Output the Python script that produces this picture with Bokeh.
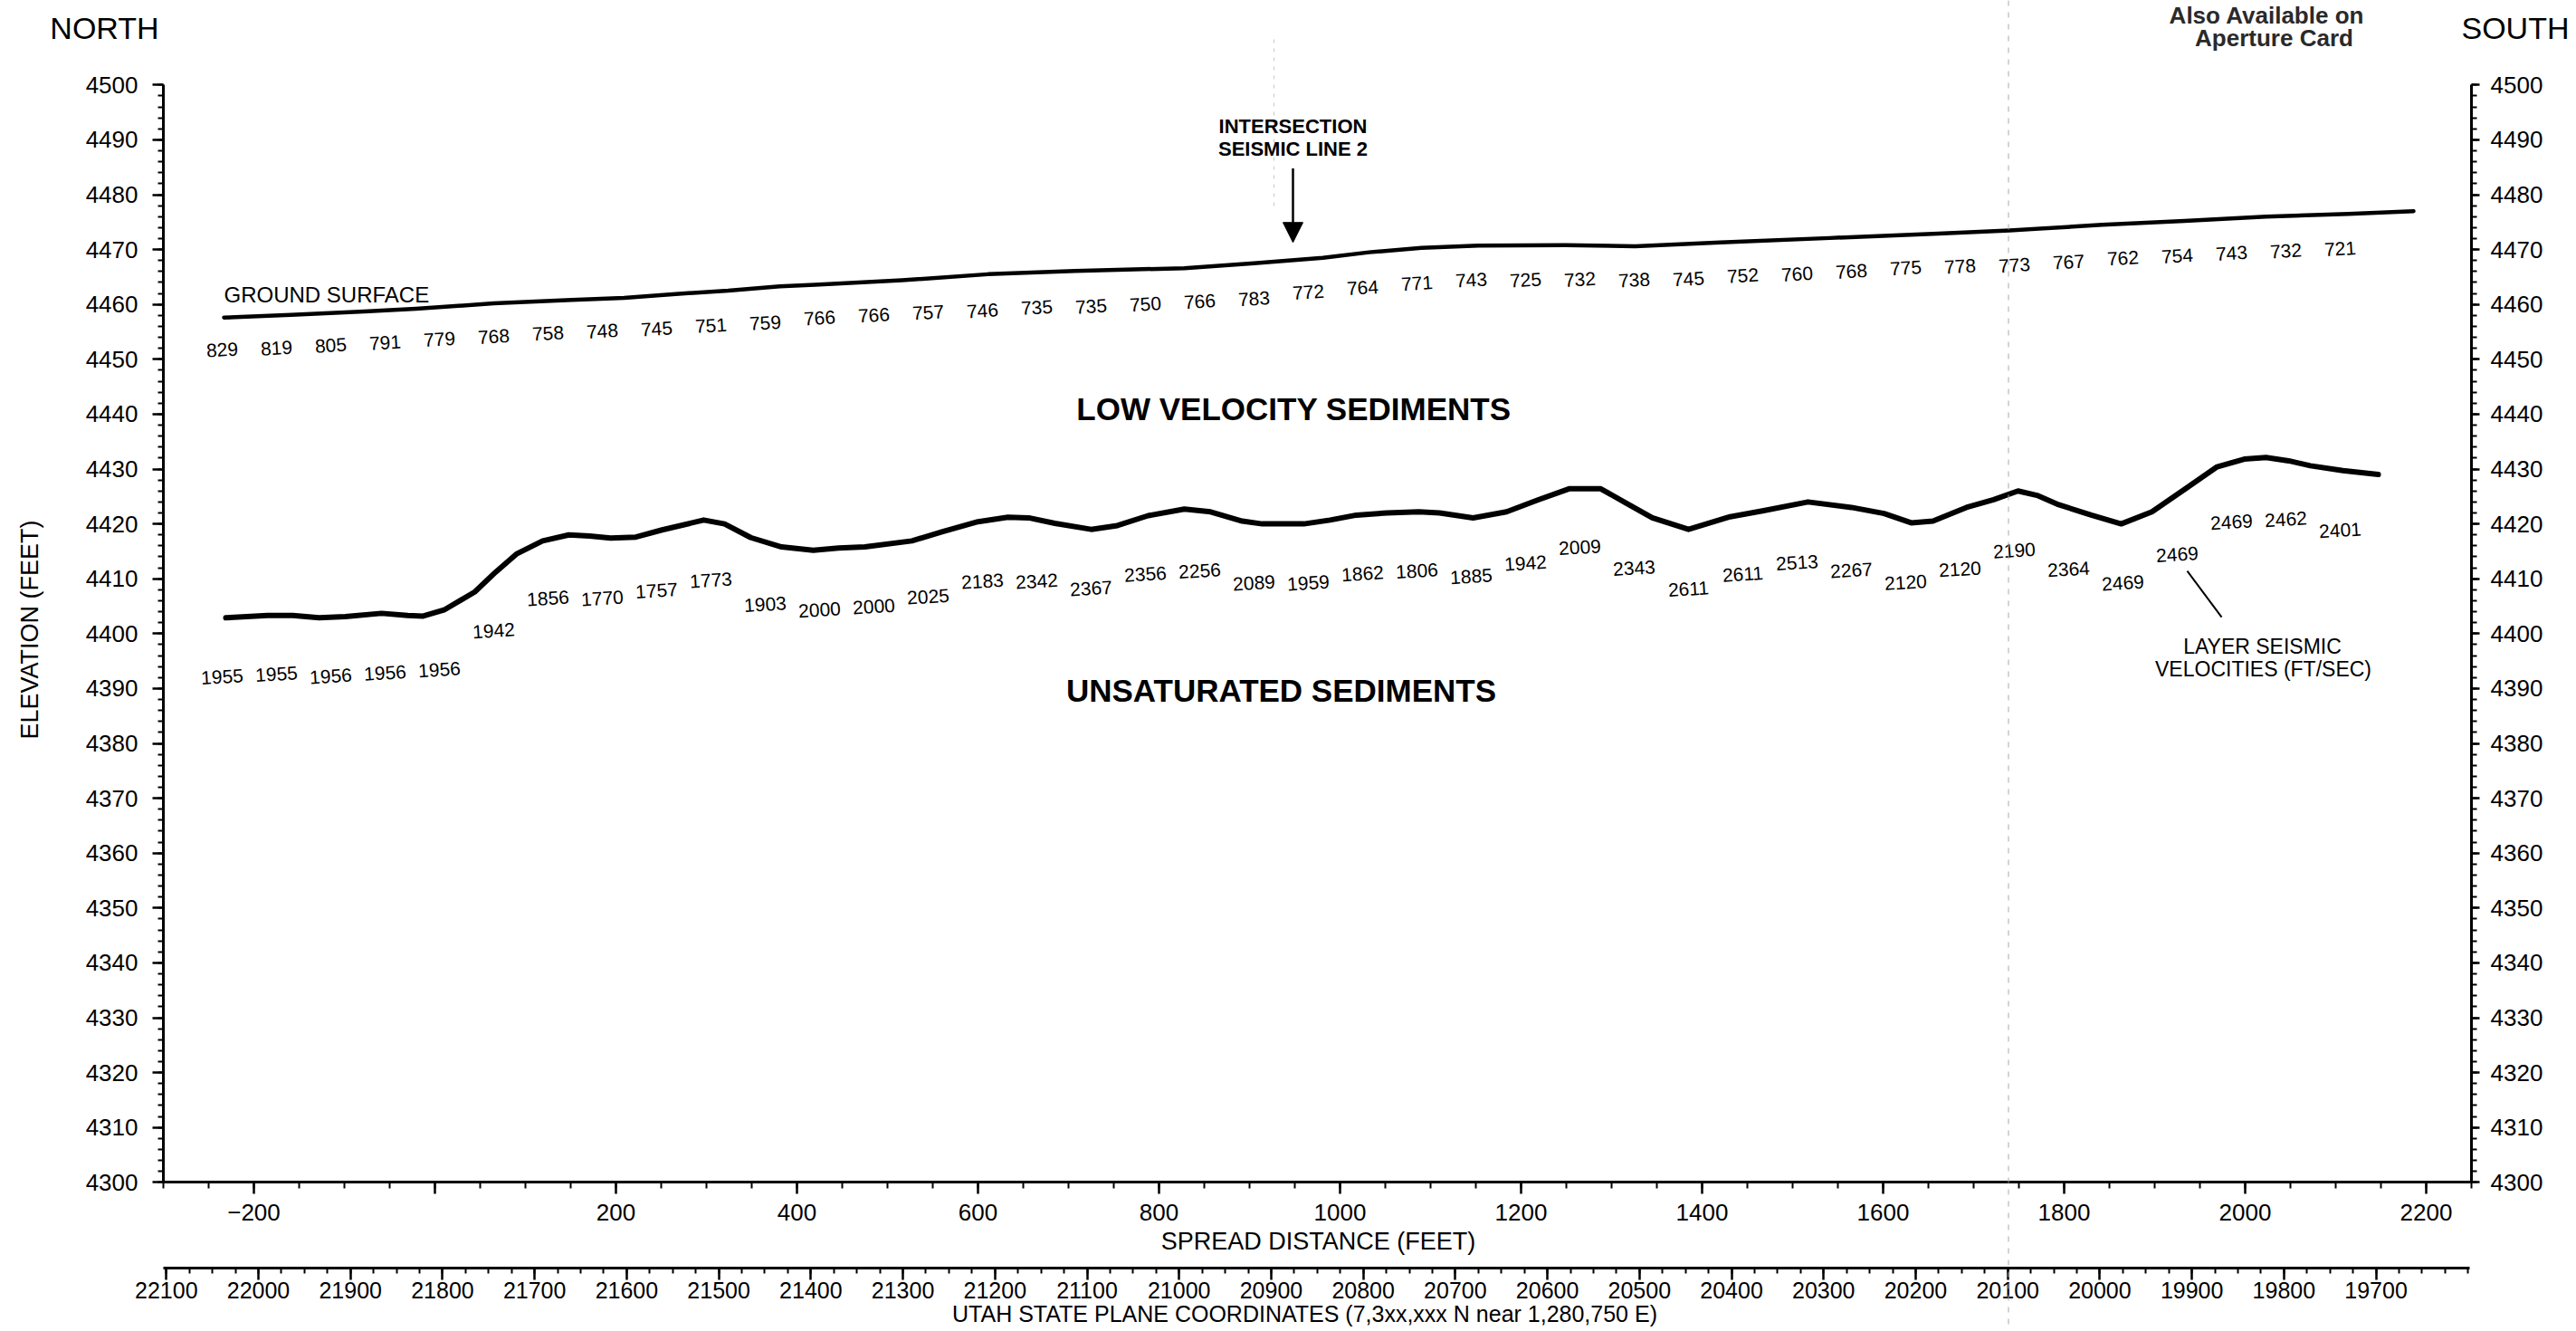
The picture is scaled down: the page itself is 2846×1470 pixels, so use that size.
import math
from bokeh.plotting import figure
from bokeh.models import (Range1d, LinearAxis, FixedTicker, ColumnDataSource, Label,
                          Arrow, NormalHead, Span)
from bokeh.core.properties import value
from bokeh.embed import file_html
from bokeh.resources import INLINE

# ---------------- data ----------------
stations = [-235, -175, -115, -55, 5, 65, 125, 185, 245, 305, 365, 425, 485, 545, 605,
            665, 725, 785, 845, 905, 965, 1025, 1085, 1145, 1205, 1265, 1325, 1385, 1445,
            1505, 1565, 1625, 1685, 1745, 1805, 1865, 1925, 1985, 2045, 2105]

ground_x = [-233, -159, -78, -21, 65, 151, 209, 266, 324, 381, 420, 516, 611, 707, 828, 905,
            981, 1032, 1090, 1153, 1249, 1326, 1420, 1541, 1661, 1740, 1842, 1933, 2023, 2114, 2186]
ground_y = [4457.6, 4458.1, 4458.7, 4459.2, 4460.2, 4460.8, 4461.2, 4461.9, 4462.5, 4463.3,
            4463.6, 4464.4, 4465.5, 4466.1, 4466.6, 4467.5, 4468.5, 4469.5, 4470.3, 4470.7,
            4470.8, 4470.6, 4471.3, 4472.1, 4472.9, 4473.5, 4474.5, 4475.2, 4476.0, 4476.5, 4477.0]

layer_x = [-231, -185, -157, -128, -99, -59, -30, -13, 10, 44, 67, 90, 119, 148, 171, 194, 222,
           251, 297, 320, 349, 383, 418, 446, 475, 527, 561, 600, 633, 656, 685, 725, 754, 788,
           828, 857, 892, 914, 960, 989, 1018, 1052, 1087, 1110, 1147, 1184, 1219, 1253, 1288,
           1316, 1345, 1385, 1431, 1468, 1517, 1565, 1601, 1631, 1655, 1692, 1722, 1749, 1770,
           1794, 1830, 1863, 1897, 1933, 1969, 1999, 2023, 2048, 2072, 2108, 2147]
layer_y = [4402.9, 4403.3, 4403.3, 4402.9, 4403.1, 4403.7, 4403.3, 4403.2, 4404.3, 4407.6,
           4411.2, 4414.5, 4416.9, 4418.0, 4417.8, 4417.4, 4417.6, 4418.9, 4420.7, 4420.0,
           4417.5, 4415.8, 4415.2, 4415.6, 4415.8, 4416.9, 4418.6, 4420.4, 4421.2, 4421.1,
           4420.1, 4419.0, 4419.7, 4421.5, 4422.7, 4422.2, 4420.5, 4420.0, 4420.0, 4420.7,
           4421.6, 4422.0, 4422.2, 4422.0, 4421.1, 4422.2, 4424.4, 4426.4, 4426.4, 4423.8,
           4421.1, 4419.0, 4421.3, 4422.4, 4424.0, 4423.0, 4421.9, 4420.2, 4420.5, 4423.0,
           4424.4, 4426.0, 4425.2, 4423.5, 4421.6, 4420.0, 4422.2, 4426.3, 4430.4, 4431.8,
           4432.1, 4431.5, 4430.6, 4429.7, 4429.0]

upper_vel = ["829", "819", "805", "791", "779", "768", "758", "748", "745", "751",
             "759", "766", "766", "757", "746", "735", "735", "750", "766", "783",
             "772", "764", "771", "743", "725", "732", "738", "745", "752", "760",
             "768", "775", "778", "773", "767", "762", "754", "743", "732", "721"]
upper_vel_elev = [4451.7, 4452.0, 4452.5, 4453.0, 4453.6, 4454.1, 4454.7, 4455.1, 4455.5, 4456.1,
                  4456.6, 4457.5, 4458.0, 4458.5, 4458.8, 4459.4, 4459.6, 4460.0, 4460.5, 4461.0,
                  4462.2, 4463.0, 4463.8, 4464.4, 4464.4, 4464.5, 4464.4, 4464.6, 4465.2, 4465.5,
                  4466.0, 4466.6, 4466.9, 4467.1, 4467.7, 4468.4, 4468.8, 4469.3, 4469.7, 4470.1]

lower_vel = ["1955", "1955", "1956", "1956", "1956", "1942", "1856", "1770", "1757", "1773",
             "1903", "2000", "2000", "2025", "2183", "2342", "2367", "2356", "2256", "2089",
             "1959", "1862", "1806", "1885", "1942", "2009", "2343", "2611", "2611", "2513",
             "2267", "2120", "2120", "2190", "2364", "2469", "2469", "2469", "2462", "2401"]
lower_vel_elev = [4392.1, 4392.6, 4392.2, 4392.8, 4393.4, 4400.5, 4406.4, 4406.4, 4407.8, 4409.7,
                  4405.3, 4404.3, 4404.9, 4406.7, 4409.5, 4409.5, 4408.2, 4410.8, 4411.4, 4409.2,
                  4409.2, 4410.9, 4411.4, 4410.4, 4412.8, 4415.7, 4411.9, 4408.1, 4410.8, 4412.9,
                  4411.5, 4409.3, 4411.7, 4415.1, 4411.7, 4409.2, 4414.4, 4420.3, 4420.8, 4418.8]

elev_ticks = [4300, 4310, 4320, 4330, 4340, 4350, 4360, 4370, 4380, 4390, 4400, 4410, 4420,
              4430, 4440, 4450, 4460, 4470, 4480, 4490, 4500]
spread_ticks = [-200, 0, 200, 400, 600, 800, 1000, 1200, 1400, 1600, 1800, 2000, 2200]
coord_ticks = [22100, 22000, 21900, 21800, 21700, 21600, 21500, 21400, 21300, 21200, 21100,
               21000, 20900, 20800, 20700, 20600, 20500, 20400, 20300, 20200, 20100, 20000,
               19900, 19800, 19700]

# axis extents (data units)
SPREAD_MIN, SPREAD_MAX = -300, 2250
ELEV_MIN, ELEV_MAX = 4300, 4500
COORD_AT_MIN, COORD_AT_MAX = 22103, 19598

# annotation anchors (data units)
intersection_x = 948
pointer_line = ([1936, 1974], [4411.4, 4403.0])
fold_line_x = 1738.5

FONT = "Liberation Sans"

# ---------------- figure ----------------
# The frame fills the whole canvas so texts in the margins can be drawn;
# the axes are placed at fixed locations with bounds.
W, H = 2840, 1466
PX_PER_FT_X = 1.0
X0_PX = 480.0          # canvas x of spread distance 0
Y_TOP_PX = 93.3        # canvas y of elevation 4500
PX_PER_FT_Y = 6.06
COORD_PX_PER_UNIT = 1.0172
COORD_22100_PX = 183.3

x_lo = (0 - X0_PX) / PX_PER_FT_X
x_hi = (W - X0_PX) / PX_PER_FT_X
y_hi = ELEV_MAX + Y_TOP_PX / PX_PER_FT_Y
y_lo = ELEV_MAX - (H - Y_TOP_PX) / PX_PER_FT_Y
c_lo = 22100 + COORD_22100_PX / COORD_PX_PER_UNIT
c_hi = 22100 - (W - COORD_22100_PX) / COORD_PX_PER_UNIT
coord_axis_elev = ELEV_MAX - (1400 - Y_TOP_PX) / PX_PER_FT_Y

p = figure(width=W, height=H,
           x_range=Range1d(x_lo, x_hi), y_range=Range1d(y_lo, y_hi),
           x_axis_type=None, y_axis_type=None,
           output_backend="svg", toolbar_location=None,
           min_border_left=0, min_border_right=0, min_border_top=0, min_border_bottom=0)
p.outline_line_color = None
p.background_fill_color = "white"
p.border_fill_color = "white"
p.extra_x_ranges = {"coord": Range1d(c_lo, c_hi)}


def style_axis(ax, tick_out, minor_out, label_size="26px"):
    ax.axis_line_width = 3
    ax.axis_line_color = "black"
    ax.major_tick_out = tick_out
    ax.major_tick_in = 0
    ax.minor_tick_out = minor_out
    ax.minor_tick_in = 0
    ax.major_tick_line_width = 2.5
    ax.minor_tick_line_width = 2
    ax.major_tick_line_color = "black"
    ax.minor_tick_line_color = "black"
    ax.major_label_text_font = FONT
    ax.major_label_text_font_size = label_size
    ax.major_label_text_color = "black"


elev_minor = list(range(ELEV_MIN, ELEV_MAX + 1, 2))
left_ax = LinearAxis(ticker=FixedTicker(ticks=elev_ticks, minor_ticks=elev_minor),
                     fixed_location=SPREAD_MIN, bounds=(ELEV_MIN, ELEV_MAX))
style_axis(left_ax, 12, 6)
left_ax.major_label_standoff = 16
p.add_layout(left_ax, "left")

right_ax = LinearAxis(ticker=FixedTicker(ticks=elev_ticks, minor_ticks=elev_minor),
                      fixed_location=SPREAD_MAX, bounds=(ELEV_MIN, ELEV_MAX))
style_axis(right_ax, 9, 6)
right_ax.major_label_standoff = 12
p.add_layout(right_ax, "right")

spread_ax = LinearAxis(ticker=FixedTicker(ticks=spread_ticks,
                                          minor_ticks=list(range(SPREAD_MIN, SPREAD_MAX + 1, 50))),
                       fixed_location=ELEV_MIN, bounds=(SPREAD_MIN, SPREAD_MAX))
style_axis(spread_ax, 13, 7)
spread_ax.major_label_standoff = 11
spread_ax.major_label_overrides = {0: ""}
p.add_layout(spread_ax, "below")

coord_ax = LinearAxis(x_range_name="coord",
                      ticker=FixedTicker(ticks=coord_ticks, minor_ticks=list(range(19600, 22101, 25))),
                      fixed_location=coord_axis_elev, bounds=(COORD_AT_MAX, COORD_AT_MIN))
style_axis(coord_ax, 13, 6, "25px")
coord_ax.major_label_standoff = 2
p.add_layout(coord_ax, "below")

# faint fold lines of the scanned sheet
p.add_layout(Span(location=fold_line_x, dimension="height", line_color="#a8a8a8",
                  line_width=1, line_dash="6 7"))
p.segment(x0=[927], y0=[4508.3], x1=[927], y1=[4477.4], line_color="#c8c8c8", line_width=1,
          line_dash="4 6")

# ---------------- lines ----------------
p.line(ground_x, ground_y, line_width=4.5, line_color="black", line_join="round", line_cap="round")
p.line(layer_x, layer_y, line_width=6, line_color="black", line_join="round", line_cap="round")

# ---------------- velocity numbers ----------------
src_up = ColumnDataSource(dict(x=stations, y=upper_vel_elev, t=upper_vel))
src_lo = ColumnDataSource(dict(x=stations, y=lower_vel_elev, t=lower_vel))
for src in (src_up, src_lo):
    p.text(x="x", y="y", text="t", source=src, angle=0.06,
           text_font=value(FONT), text_font_size="21px", text_color="black",
           text_align="center", text_baseline="middle")


# ---------------- annotations ----------------
def add_label(x, y, text, size, bold=False, align="center", color="black", angle=0.0):
    p.add_layout(Label(x=x, y=y, text=text, text_font=FONT, text_font_size=size,
                       text_font_style="bold" if bold else "normal", text_color=color,
                       text_align=align, text_baseline="middle", angle=angle))


add_label(-233, 4461.8, "GROUND SURFACE", "24px", align="left")
add_label(949, 4440.9, "LOW VELOCITY SEDIMENTS", "35px", bold=True)
add_label(935, 4389.7, "UNSATURATED SEDIMENTS", "35px", bold=True)
add_label(intersection_x, 4492.5, "INTERSECTION", "22px", bold=True)
add_label(intersection_x, 4488.3, "SEISMIC LINE 2", "22px", bold=True)
p.add_layout(Arrow(end=NormalHead(size=22, fill_color="black", line_color="black"),
                   x_start=intersection_x, y_start=4484.8, x_end=intersection_x, y_end=4471.3,
                   line_width=2.5, line_color="black"))
add_label(2019, 4397.6, "LAYER SEISMIC", "23px")
add_label(2020, 4393.5, "VELOCITIES (FT/SEC)", "23px")
p.line(pointer_line[0], pointer_line[1], line_width=2, line_color="black")

# margin texts
add_label(-365, 4510.3, "NORTH", "34px")
add_label(2358, 4510.3, "SOUTH", "34px", align="right")
add_label(2024, 4512.7, "Also Available on", "26px", bold=True, color="#2a2a2a")
add_label(2032, 4508.6, "Aperture Card", "26px", bold=True, color="#2a2a2a")
add_label(-448, 4400.7, "ELEVATION (FEET)", "27px", angle=math.pi / 2)
add_label(976, 4289.3, "SPREAD DISTANCE (FEET)", "27px")
add_label(961, 4276.1, "UTAH STATE PLANE COORDINATES (7,3xx,xxx N near 1,280,750 E)", "25px")

open("out.html", "w").write(file_html(p, INLINE))
